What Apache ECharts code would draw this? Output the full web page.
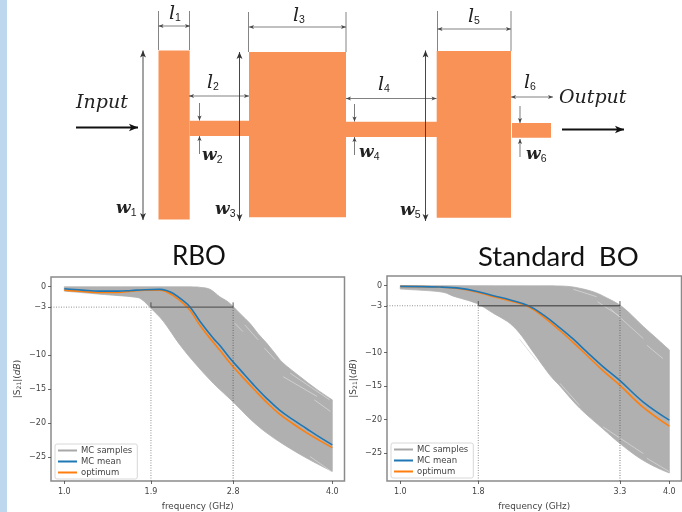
<!DOCTYPE html>
<html><head><meta charset="utf-8">
<style>html,body{margin:0;padding:0;background:#fff}#c{width:682px;height:512px}</style>
<script src="https://cdn.jsdelivr.net/npm/echarts@6/dist/echarts.min.js"></script>
</head><body><div id="c"></div>
<script>
// ---- values: [frequency position, dB]
const rboUpper=[[1,-0.02],[1.5,-0.02],[2,-0.02],[2.44,-0.03],[2.52,-0.1],[2.63,-0.38],[2.74,-1.47],[2.82,-2.1],[2.89,-2.9],[2.98,-4.1],[3.08,-5.4],[3.17,-6.9],[3.26,-8.2],[3.36,-9.8],[3.45,-11.2],[3.64,-13.2],[3.82,-15],[4,-16.6]];
const rboLower=[[1,-0.65],[1.4,-1.1],[1.77,-1.5],[1.87,-1.9],[1.97,-3.17],[2.11,-5.1],[2.295,-8.55],[2.48,-11.5],[2.67,-14.2],[2.89,-16.9],[3.08,-19.4],[3.26,-21.4],[3.45,-23.1],[3.64,-24.6],[3.82,-25.9],[4,-27.1]];
const rboMean=[[1,-0.3],[1.2,-0.5],[1.4,-0.65],[1.6,-0.65],[1.75,-0.55],[1.9,-0.45],[2.07,-0.4],[2.15,-0.6],[2.22,-1],[2.33,-2.05],[2.41,-3],[2.52,-5.1],[2.67,-7.6],[2.74,-8.6],[2.855,-10.5],[2.97,-12.2],[3.12,-14.4],[3.26,-16.3],[3.41,-18.1],[3.56,-19.5],[3.71,-20.8],[3.85,-22],[4,-23.2]];
const rboOptimum=[[1,-0.5],[1.2,-0.7],[1.4,-0.85],[1.6,-0.85],[1.75,-0.65],[1.9,-0.5],[2.07,-0.5],[2.15,-0.8],[2.22,-1.3],[2.33,-2.4],[2.41,-3.5],[2.52,-5.7],[2.67,-8.2],[2.74,-9.3],[2.855,-11.2],[2.97,-12.9],[3.12,-15],[3.26,-16.9],[3.41,-18.7],[3.56,-20.1],[3.71,-21.4],[3.85,-22.5],[4,-23.6]];
const rboStreaks=[[[2.91,-5.37],[3.0,-6.6]],[[3.02,-5.6],[3.17,-7.8]],[[3.24,-9],[3.36,-10.7]],[[3.45,-13.2],[3.83,-16.1]],[[3.53,-12.7],[3.97,-16.6]],[[3.75,-24.9],[3.99,-27.1]],[[3.8,-16.6],[3.98,-18.3]]];

const stdUpper=[[1,0],[1.5,0],[2,-0.01],[2.5,-0.02],[2.74,-0.03],[2.93,-0.2],[3.15,-0.9],[3.3,-1.8],[3.45,-2.9],[3.58,-4.4],[3.71,-6.1],[3.86,-7.9],[4,-9.6]];
const stdLower=[[1,-0.5],[1.44,-0.9],[1.6,-1.6],[1.85,-2.64],[2.04,-4.14],[2.2,-5.4],[2.33,-7.1],[2.48,-9.9],[2.67,-13.4],[2.78,-15],[3.0,-18.3],[3.26,-21.4],[3.45,-23.6],[3.67,-25.8],[3.86,-27.2],[4,-28]];
const stdMean=[[1,-0.1],[1.44,-0.2],[1.67,-0.4],[1.87,-0.9],[2.04,-1.5],[2.22,-2.1],[2.43,-3],[2.6,-4.4],[2.78,-6.3],[2.93,-8],[3.08,-9.9],[3.26,-12.1],[3.45,-14.2],[3.71,-17.4],[4,-20.1]];
const stdOptimum=[[1,-0.1],[1.44,-0.2],[1.67,-0.45],[1.87,-1],[2.04,-1.65],[2.22,-2.25],[2.43,-3.15],[2.6,-4.7],[2.78,-6.7],[2.93,-8.5],[3.08,-10.4],[3.26,-12.7],[3.45,-14.9],[3.71,-18.2],[4,-21]];
const stdStreaks=[[[2.93,-0.54],[3.19,-1.65]],[[3.34,-3.4],[3.71,-7.9]],[[3.75,-8.9],[3.93,-10.9]],[[3.2,-2.4],[3.45,-4.6]],[[2.33,-8],[2.52,-11.2]],[[2.78,-14.6],[3.0,-17.9]],[[3.26,-21.1],[3.71,-25.1]],[[3.75,-25.8],[4,-27.8]]];

const rboTickPos=[1,1.97,2.89,4], rboTickLabels=['1.0','1.9','2.8','4.0'];
const stdTickPos=[1,1.87,3.45,4], stdTickLabels=['1.0','1.8','3.3','4.0'];
const yTicks=[0,-3,-10,-15,-20,-25];
const legendNames=['MC samples','MC mean','optimum'];
const titles=['RBO','Standard\u2002BO'];

// ---- style
const BAND='#b0b0b0',BLUE='#1f77b4',ORANGE='#ff7f0e',FILL='#f99257',AX='#444';
const FONT='"DejaVu Sans",sans-serif',SERIF='"DejaVu Serif","Liberation Serif",serif';
const panels=[
 {up:rboUpper,lo:rboLower,mean:rboMean,opt:rboOptimum,st:rboStreaks,pos:rboTickPos,lab:rboTickLabels,
  grid:{left:51,top:277,width:293.5,height:204},xr:[0.851,4.137],yr:[-28.5,1.42],leg:{left:55,top:444},nameGap:29},
 {up:stdUpper,lo:stdLower,mean:stdMean,opt:stdOptimum,st:stdStreaks,pos:stdTickPos,lab:stdTickLabels,
  grid:{left:387,top:276,width:294.5,height:205},xr:[0.852,4.136],yr:[-29.2,1.45],leg:{left:391,top:443},nameGap:29}
];
// display-only curve through the read points
const curve=(pts,first)=>{let d=(first?'M':'L')+pts[0][0]+' '+pts[0][1];
  for(let i=0;i<pts.length-1;i++){const a=pts[Math.max(i-1,0)],b=pts[i],c=pts[i+1],e=pts[Math.min(i+2,pts.length-1)];
    d+=' C'+(b[0]+(c[0]-a[0])/6)+' '+(b[1]+(c[1]-a[1])/6)+' '+(c[0]-(e[0]-b[0])/6)+' '+(c[1]-(e[1]-b[1])/6)+' '+c[0]+' '+c[1];}
  return d;};
const grid=[],xAxis=[],yAxis=[],series=[],legend=[];
panels.forEach((p,i)=>{
  grid.push(Object.assign({show:true,borderColor:'#8a8a8a',borderWidth:1.5,backgroundColor:'#fff'},p.grid));
  xAxis.push({type:'value',gridIndex:i,min:p.xr[0],max:p.xr[1],splitLine:{show:false},axisLine:{show:false,onZero:false},
    axisTick:{show:true,length:3,lineStyle:{color:AX,width:0.8},customValues:p.pos},
    axisLabel:{color:AX,fontFamily:FONT,fontSize:8,margin:7,
      customValues:p.pos,formatter:v=>{const k=p.pos.findIndex(q=>Math.abs(q-v)<1e-6);return k<0?'':p.lab[k];}},
    name:'frequency (GHz)',nameLocation:'middle',nameGap:21,nameTextStyle:{color:AX,fontFamily:FONT,fontSize:8.8}});
  yAxis.push({type:'value',gridIndex:i,min:p.yr[0],max:p.yr[1],splitLine:{show:false},axisLine:{show:false,onZero:false},
    axisTick:{show:true,length:3,lineStyle:{color:AX,width:0.8},customValues:yTicks},
    axisLabel:{color:AX,fontFamily:FONT,fontSize:8,margin:5,customValues:yTicks,
      formatter:v=>String(v).replace('-','\u2212')},
    name:'{n||S}{s|21}{n||(}{i|dB}{n|)}',nameLocation:'middle',nameGap:p.nameGap,
    nameTextStyle:{color:AX,rich:{n:{fontFamily:FONT,fontSize:9,color:AX},s:{fontFamily:FONT,fontSize:6,color:AX,verticalAlign:'bottom',lineHeight:7},i:{fontFamily:FONT,fontStyle:'italic',fontSize:9,color:AX}}}});
  const poly=p.up.concat(p.lo.slice().reverse());
  series.push({type:'custom',name:legendNames[0],xAxisIndex:i,yAxisIndex:i,coordinateSystem:'cartesian2d',silent:true,
    z:2,clip:true,itemStyle:{color:BAND},data:poly,encode:{x:0,y:1},
    renderItem:(params,api)=>{
      if(params.dataIndex!==0)return null;
      const U=p.up.map(d=>api.coord(d)),L=p.lo.slice().reverse().map(d=>api.coord(d));
      return {type:'path',shape:{pathData:curve(U,true)+' '+curve(L,false)+' Z'},style:{fill:BAND,stroke:BAND,lineWidth:0.8}};
    }});
  p.st.forEach(s=>series.push({type:'line',name:'streak',xAxisIndex:i,yAxisIndex:i,data:s,showSymbol:false,silent:true,z:3,
    lineStyle:{color:'#d6d6d6',width:0.8}}));
  const ref=(data,type,w,c)=>series.push({type:'line',name:'ref',xAxisIndex:i,yAxisIndex:i,data,showSymbol:false,silent:true,z:7,
    lineStyle:{color:c,width:w,type}});
  series.push({type:'line',name:legendNames[1],xAxisIndex:i,yAxisIndex:i,data:p.mean,showSymbol:false,smooth:0.4,z:5,silent:true,lineStyle:{color:BLUE,width:1.6},itemStyle:{color:BLUE}});
  series.push({type:'line',name:legendNames[2],xAxisIndex:i,yAxisIndex:i,data:p.opt,showSymbol:false,smooth:0.4,z:4,silent:true,lineStyle:{color:ORANGE,width:1.6},itemStyle:{color:ORANGE}});
  const a=p.pos[1],b=p.pos[2];
  ref([[p.xr[0],-3],[a,-3]],[1,1.5],0.8,'#777');
  ref([[a,-3],[b,-3]],'solid',1.3,'#5c5c5c');
  ref([[a,p.yr[0]],[a,-3]],[1,1.5],0.8,'#777');
  ref([[b,p.yr[0]],[b,-3]],[1,1.5],0.8,'#555');
  ref([[a,-3],[a,-2.3]],'solid',0.9,'#444');
  ref([[b,-3],[b,-2.3]],'solid',0.9,'#444');
  legend.push({left:p.leg.left,top:p.leg.top,orient:'vertical',itemWidth:19,itemHeight:2,itemGap:2,padding:[2,5,2,3],
    backgroundColor:'rgba(255,255,255,0.85)',borderColor:'#d8d8d8',borderWidth:1,borderRadius:2,selectedMode:false,
    textStyle:{color:AX,fontFamily:FONT,fontSize:8.5,padding:[0,0,0,-1],lineHeight:9},
    data:[{name:legendNames[0],icon:'rect',itemStyle:{color:'#a8a8a8'}},{name:legendNames[1],icon:'rect',itemStyle:{color:BLUE}},{name:legendNames[2],icon:'rect',itemStyle:{color:ORANGE}}]});
});

// ---- schematic (annotation drawing above the two plots)
const g=[];
g.push({type:'rect',shape:{x:0,y:0,width:7,height:512},style:{fill:'#bdd7ee'},silent:true});
const box=(x0,y0,x1,y1)=>g.push({type:'rect',shape:{x:x0,y:y0,width:x1-x0,height:y1-y0},style:{fill:FILL}});
box(158.5,50.5,189.7,219.5);box(189.7,120.7,249,136);box(249,52,346,217.3);box(346,121.7,437,137);box(436.7,51,511,217.7);box(512,123,551,137.7);
const ln=(x1,y1,x2,y2,c,w)=>g.push({type:'line',shape:{x1,y1,x2,y2},style:{stroke:c,lineWidth:w},z:5});
const head=(x,y,dx,dy,s,c)=>{const px=-dy,py=dx;g.push({type:'polygon',z:5,shape:{points:[[x,y],[x-dx*s+px*s*0.42,y-dy*s+py*s*0.42],[x-dx*s*0.75,y-dy*s*0.75],[x-dx*s-px*s*0.42,y-dy*s-py*s*0.42]]},style:{fill:c}});};
const dbl=(x1,y1,x2,y2,c,w,s)=>{ln(x1,y1,x2,y2,c,w);const L=Math.hypot(x2-x1,y2-y1),dx=(x2-x1)/L,dy=(y2-y1)/L;head(x2,y2,dx,dy,s,c);head(x1,y1,-dx,-dy,s,c);};
const one=(x1,y1,x2,y2,c,w,s)=>{ln(x1,y1,x2,y2,c,w);const L=Math.hypot(x2-x1,y2-y1);head(x2,y2,(x2-x1)/L,(y2-y1)/L,s,c);};
const D='#4a4a4a',G='#777';
[[158.5,11,50],[189.5,11,50],[248.5,12,52],[346,12,52],[437.5,11,51],[511,11,51]].forEach(e=>ln(e[0],e[1],e[0],e[2],G,0.9));
dbl(158.5,26,190,26,D,0.7,5);dbl(249,27,346,27,D,0.7,5);dbl(437.5,29,511,29,D,0.7,5);
dbl(189,96,249,96,D,0.7,5);dbl(346,98.5,436.5,98.5,D,0.7,5);dbl(511,97,553,97,D,0.7,5);
dbl(143,50.5,143,220,'#333',0.9,7);dbl(239.5,52,239.5,221,'#333',0.9,7);dbl(425.5,50.5,425.5,221,'#333',0.9,7);
[[199.5,103,120.5,136,154],[354.5,104,121.5,137,155],[520,106,123,139,157]].forEach(a=>{one(a[0],a[1],a[0],a[2],'#444',0.7,5);one(a[0],a[4],a[0],a[3],'#444',0.7,5);});
one(76,127.5,138,127.5,'#111',1.8,9);one(562,129.5,624,129.5,'#111',1.8,9);
const sym=(c,n,x,y)=>g.push({type:'text',x,y,z:6,style:{text:'{a|'+c+'}{b|'+n+'}',fill:'#222',
  rich:{a:{fontFamily:SERIF,fontStyle:'italic',fontWeight:c==='w'?'bold':'normal',fontSize:c==='w'?17:19,color:'#222'},
        b:{fontFamily:'"Liberation Sans",sans-serif',fontSize:10.5,color:'#333',padding:[9,0,0,0]}}}});
const label=(t,x,y)=>g.push({type:'text',x,y,z:6,style:{text:t,fill:'#222',fontFamily:'"DejaVu Serif",serif',fontStyle:'italic',fontWeight:'normal',fontSize:19}});
label('Input',76,94);label('Output',559,89);
sym('l','1',169,4);sym('l','3',293,6);sym('l','5',468,7);sym('l','2',207,73);sym('l','4',378,75);sym('l','6',524,73);
sym('w','1',116,199);sym('w','3',215,200);sym('w','5',400,201);sym('w','2',202,146);sym('w','4',359,143);sym('w','6',526,145);

const option={animation:false,backgroundColor:'#fff',grid,xAxis,yAxis,series,legend,
  title:[{text:titles[0],left:172,top:244,padding:0,textStyle:{fontFamily:'Lato,sans-serif',fontWeight:'normal',fontSize:26,color:'#111'}},
         {text:titles[1],left:478,top:243,padding:0,textStyle:{fontFamily:'Lato,sans-serif',fontWeight:'normal',fontSize:27.5,color:'#111'}}],
  graphic:g};
const chart=echarts.init(document.getElementById('c'),null,{renderer:'canvas'});
chart.setOption(option);
</script></body></html>
